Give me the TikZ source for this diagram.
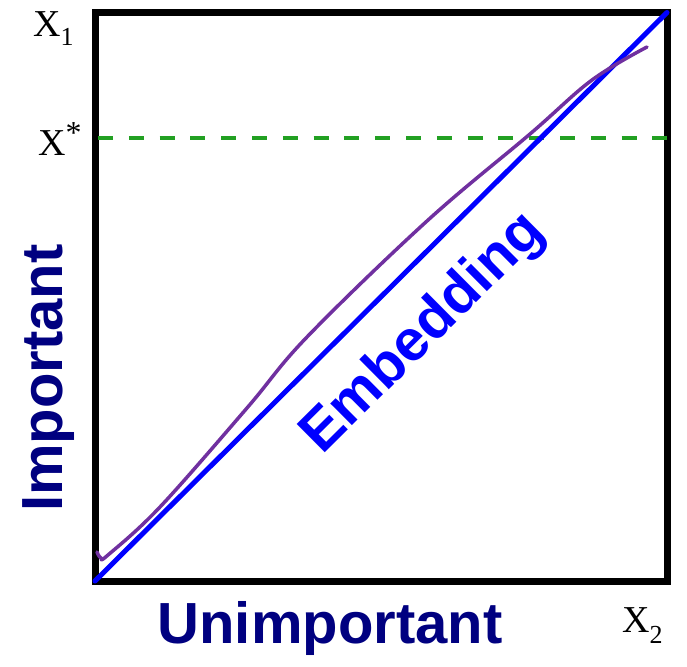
\documentclass[tikz,border=0pt]{standalone}
\usepackage{fontspec}
\setmainfont{Liberation Sans}
\newfontfamily\timesx{Liberation Serif}
\definecolor{navy}{RGB}{0,0,128}
\definecolor{sketch}{RGB}{112,48,160}
\definecolor{cutgreen}{RGB}{34,160,34}
\tikzset{
  frame/.style={line width=7pt,line join=miter},
  embed/.style={blue,line width=5pt,line cap=round},
  cutline/.style={cutgreen,line width=4pt,dash pattern=on 15pt off 15.8pt},
  freehand/.style={sketch,line width=3.5pt,line cap=round,line join=round},
  axislabel/.style={navy,font=\fontsize{58}{58}\selectfont\bfseries,inner sep=0pt},
  varlabel/.style={font=\timesx\fontsize{38}{38}\selectfont,inner sep=0pt,anchor=base west}
}
\begin{document}
\begin{tikzpicture}[x=1pt,y=-1pt]
\useasboundingbox(0,0)rectangle(687,666);
\coordinate(O)at(95,581);\coordinate(R)at(667,581);\coordinate(T)at(667,12.5);\coordinate(L)at(95,12.5);\coordinate(S1)at(98,138);\coordinate(S2)at(667,138);
\draw[frame](O)--(R)--(T)--(L)--cycle;
\draw[cutline](S1)--(S2);
\draw[embed](O)--(T);
\draw[freehand]plot[smooth,tension=0.6]coordinates{(97,552)(101,558)(108,555)(160,507)(247,408)(307,337)(427,221)(530,134)(592,80)(647,47)};
\node[axislabel,blue,rotate=44.8](emb)at(424,334){Embedding};
\node[axislabel,rotate=90,anchor=base](imp)at(62,378){Important};
\node[axislabel,anchor=base](unimp)at(330,643){Unimportant};
\node[varlabel](x1)at(33,37){X\raisebox{-9pt}{\fontsize{26}{26}\selectfont 1}};
\node[varlabel](xs)at(38,155){X\raisebox{12pt}{\fontsize{32}{32}\selectfont *}};
\node[varlabel](x2)at(622,632){X\raisebox{-11pt}{\fontsize{26}{26}\selectfont 2}};
\end{tikzpicture}
\end{document}
